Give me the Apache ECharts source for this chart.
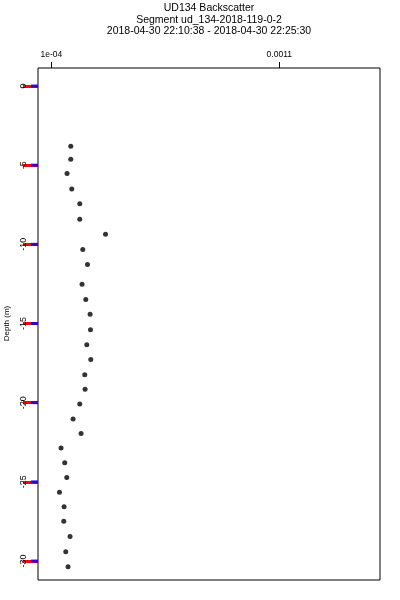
<!DOCTYPE html>
<html><head><meta charset="utf-8">
<script src="https://cdn.jsdelivr.net/npm/echarts@6/dist/echarts.min.js"></script>
<style>html,body{margin:0;padding:0;background:#fff}#c{width:400px;height:600px}</style>
</head><body><div id="c"></div>
<script>
const titleLines = ["UD134 Backscatter", "Segment ud_134-2018-119-0-2", "2018-04-30 22:10:38 - 2018-04-30 22:25:30"];
const xTicks = [0.0001, 0.0011];
const xTickLabels = ["1e-04", "0.0011"];
const yTicks = [-30, -25, -20, -15, -10, -5, 0];
const depth = [-3.80,-4.62,-5.53,-6.51,-7.44,-8.42,-9.37,-10.33,-11.28,-12.52,-13.48,-14.41,-15.39,-16.34,-17.28,-18.23,-19.16,-20.08,-21.03,-21.95,-22.87,-23.80,-24.72,-25.66,-26.57,-27.49,-28.46,-29.41,-30.37];
const backscatter = [1.848e-4,1.848e-4,1.685e-4,1.892e-4,2.243e-4,2.243e-4,3.373e-4,2.375e-4,2.582e-4,2.344e-4,2.507e-4,2.696e-4,2.714e-4,2.551e-4,2.727e-4,2.463e-4,2.476e-4,2.243e-4,1.949e-4,2.301e-4,1.422e-4,1.584e-4,1.672e-4,1.351e-4,1.554e-4,1.540e-4,1.817e-4,1.628e-4,1.729e-4];
const xMin = 4.1e-5, xMax = 1.542e-3;

const font = "Liberation Sans";
const chart = echarts.init(document.getElementById('c'), null, {renderer:'canvas'});
chart.setOption({
  animation: false,
  textStyle: {fontFamily: font, color: '#000'},
  graphic: titleLines.map((t, i) => ({
    type: 'text', x: 209, y: 2.5 + i * 11.7,
    style: {text: t, font: '10.5px "' + font + '"', fill: '#000', align: 'center', verticalAlign: 'top'}
  })),
  grid: [
    {left: 38, top: 86, right: 20, bottom: 39, show: false, containLabel: false, outerBoundsMode: 'none'},
    {left: 38, top: 68, right: 20, bottom: 20, show: true, borderColor: '#000', borderWidth: 1, containLabel: false, outerBoundsMode: 'none'}
  ],
  xAxis: [{
    gridIndex: 0, type: 'value', position: 'top', offset: 18, min: xMin, max: xMax,
    axisLine: {show: false, onZero: false},
    splitLine: {show: false},
    axisTick: {show: true, inside: false, customValues: xTicks, length: 6, lineStyle: {color: '#000'}},
    axisLabel: {show: true, customValues: xTicks, margin: 9, fontSize: 8.5, color: '#000', fontFamily: font,
      formatter: v => { const i = xTicks.findIndex(t => Math.abs(t - v) < 1e-9); return i >= 0 ? xTickLabels[i] : ''; }}
  }, {
    gridIndex: 1, type: 'value', show: false, min: 0, max: 1
  }],
  yAxis: [{
    gridIndex: 0, type: 'value', position: 'left', min: -30, max: 0, interval: 5,
    name: 'Depth (m)', nameLocation: 'middle', nameRotate: 90, nameGap: 27,
    nameTextStyle: {fontSize: 8, color: '#000', fontFamily: font},
    axisLine: {show: false, onZero: false},
    splitLine: {show: false},
    axisTick: {show: true, inside: false, length: 15, lineStyle: {color: '#f00', width: 3}},
    axisLabel: {show: true, rotate: 90, margin: 10, fontSize: 9, color: '#000', fontFamily: font}
  }, {
    gridIndex: 1, type: 'value', show: false, min: 0, max: 1
  }],
  series: [{
    type: 'scatter', xAxisIndex: 0, yAxisIndex: 0, symbol: 'circle', symbolSize: 5, clip: false,
    itemStyle: {color: '#000'},
    data: backscatter.map((v, i) => [v, depth[i]])
  }, {
    type: 'scatter', xAxisIndex: 0, yAxisIndex: 0, symbol: 'rect', symbolSize: [7, 3], symbolOffset: [-3.5, 0],
    clip: false, silent: true, itemStyle: {color: '#00f'},
    data: yTicks.map(v => [xMin, v])
  }, {
    type: 'scatter', xAxisIndex: 1, yAxisIndex: 1, data: [], silent: true
  }]
});
</script></body></html>
